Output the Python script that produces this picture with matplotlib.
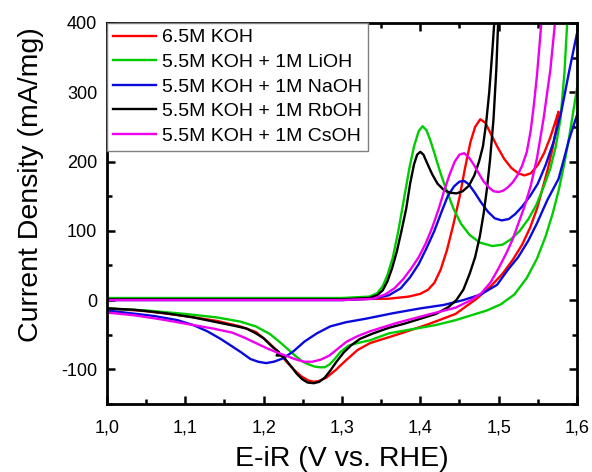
import matplotlib
matplotlib.use('Agg')
import matplotlib.pyplot as plt
from matplotlib.ticker import MultipleLocator

plt.rcParams['font.family'] = ['Liberation Sans', 'DejaVu Sans']

labels = ['6.5M KOH', '5.5M KOH + 1M LiOH', '5.5M KOH + 1M NaOH',
          '5.5M KOH + 1M RbOH', '5.5M KOH + 1M CsOH']
colors = ['#FF0000', '#00CC00', '#0A0ADC', '#000000', '#EE00EE']

x_ticks = [1.0, 1.1, 1.2, 1.3, 1.4, 1.5, 1.6]
x_tick_labels = ['1,0', '1,1', '1,2', '1,3', '1,4', '1,5', '1,6']
y_ticks = [-100, 0, 100, 200, 300, 400]
y_tick_labels = ['-100', '0', '100', '200', '300', '400']

# 6.5M KOH
koh_fwd_x = [1.00, 1.15, 1.30, 1.36, 1.385, 1.40, 1.41, 1.418, 1.426, 1.434, 1.442, 1.450, 1.457,
             1.464, 1.470, 1.4765, 1.483, 1.490, 1.498, 1.507, 1.516, 1.525, 1.533, 1.541, 1.550,
             1.558, 1.566, 1.572, 1.5765]
koh_fwd_y = [1, 1, 1, 2, 5, 9, 15, 25, 44, 72, 108, 148, 190,
             228, 250, 261, 256, 240, 222, 204, 191, 183, 180, 183, 195,
             212, 235, 256, 272]
koh_rev_x = [1.5765, 1.574, 1.569, 1.563, 1.557, 1.549, 1.540, 1.530, 1.518, 1.505, 1.490, 1.472,
             1.445, 1.410, 1.370, 1.336, 1.320, 1.305, 1.292, 1.280, 1.270, 1.264, 1.257, 1.248,
             1.240, 1.230, 1.218, 1.205, 1.190, 1.170, 1.140, 1.100, 1.050, 1.000]
koh_rev_y = [272, 250, 220, 190, 165, 132, 104, 80, 58, 38, 20, 2,
             -20, -35, -50, -62, -72, -87, -101, -112, -117, -118, -116, -110,
             -102, -90, -74, -60, -46, -38, -30, -23, -16, -12]

# 5.5M KOH + 1M LiOH
li_fwd_x = [1.00, 1.15, 1.30, 1.335, 1.345, 1.352, 1.358, 1.365, 1.372, 1.379, 1.386, 1.392,
            1.398, 1.403, 1.408, 1.413, 1.418, 1.425, 1.433, 1.442, 1.452, 1.463, 1.476, 1.492,
            1.505, 1.516, 1.527, 1.538, 1.548, 1.558, 1.566, 1.573, 1.579, 1.584, 1.588, 1.592]
li_fwd_y = [3, 3, 3, 5, 10, 20, 36, 62, 100, 145, 190, 222,
            244, 251, 245, 230, 212, 186, 160, 133, 110, 94, 83, 78,
            80, 88, 100, 117, 137, 165, 190, 222, 262, 328, 410, 480]
li_rev_x = [1.615, 1.600, 1.595, 1.590, 1.584, 1.577, 1.569, 1.560, 1.549, 1.536, 1.520, 1.503,
            1.485, 1.465, 1.445, 1.420, 1.390, 1.360, 1.336, 1.320, 1.308, 1.298, 1.290, 1.284,
            1.278, 1.272, 1.265, 1.258, 1.250, 1.242, 1.232, 1.222, 1.208, 1.190, 1.170, 1.140,
            1.100, 1.050, 1.000]
li_rev_y = [420, 305, 270, 235, 198, 160, 125, 92, 60, 32, 8, -6,
            -15, -22, -29, -36, -42, -48, -58, -62, -66, -75, -86, -93,
            -97, -97, -96, -93, -89, -82, -72, -62, -49, -38, -31, -25,
            -20, -15, -12]

# 5.5M KOH + 1M NaOH
na_fwd_x = [1.00, 1.15, 1.30, 1.34, 1.36, 1.375, 1.387, 1.398, 1.408, 1.418, 1.427, 1.435,
            1.443, 1.450, 1.456, 1.462, 1.469, 1.477, 1.486, 1.495, 1.504, 1.513, 1.521, 1.530,
            1.540, 1.550, 1.560, 1.570, 1.580, 1.590, 1.600]
na_fwd_y = [0, 0, 0, 2, 7, 17, 33, 52, 75, 100, 127, 150,
            164, 171, 172, 167, 156, 142, 128, 118, 115, 117, 124, 135,
            150, 168, 195, 228, 272, 330, 385]
na_rev_x = [1.620, 1.600, 1.590, 1.583, 1.5765, 1.562, 1.549, 1.538, 1.525, 1.512, 1.498, 1.477,
            1.455, 1.430, 1.400, 1.365, 1.330, 1.305, 1.285, 1.268, 1.252, 1.238, 1.225, 1.213,
            1.203, 1.193, 1.183, 1.172, 1.160, 1.145, 1.128, 1.110, 1.090, 1.060, 1.030, 1.000]
na_rev_y = [340, 267, 232, 202, 175, 144, 111, 86, 62, 44, 22, 8,
            0, -7, -12, -19, -27, -32, -38, -48, -60, -74, -84, -89,
            -91, -89, -85, -76, -67, -56, -45, -36, -29, -23, -19, -15]

# 5.5M KOH + 1M RbOH
rb_fwd_x = [1.00, 1.15, 1.30, 1.335, 1.345, 1.352, 1.358, 1.364, 1.370, 1.376, 1.382, 1.387,
            1.392, 1.396, 1.400, 1.404, 1.409, 1.415, 1.422, 1.430, 1.438, 1.446, 1.454, 1.462,
            1.469, 1.475, 1.480, 1.484, 1.488, 1.492, 1.495, 1.498]
rb_fwd_y = [1, 1, 1, 3, 7, 14, 27, 46, 70, 100, 132, 168,
            196, 210, 214, 210, 197, 182, 168, 159, 155, 154, 157, 165,
            180, 200, 222, 255, 300, 360, 410, 470]
rb_rev_x = [1.506, 1.502, 1.4995, 1.497, 1.4935, 1.489, 1.485, 1.481, 1.476, 1.470, 1.463, 1.455,
            1.446, 1.436, 1.420, 1.400, 1.380, 1.360, 1.340, 1.323, 1.312, 1.302, 1.293, 1.285,
            1.278, 1.271, 1.264, 1.256, 1.249, 1.242, 1.236, 1.2295, 1.2255, 1.2215, 1.2165,
            1.2195, 1.2127, 1.206, 1.200, 1.190, 1.178, 1.162, 1.136, 1.110, 1.075, 1.035, 1.000]
rb_rev_y = [480, 430, 404, 332, 262, 202, 160, 126, 92, 62, 38, 15,
            0, -10, -20, -27, -34, -40, -48, -56, -65, -76, -89, -102,
            -112, -118, -120, -119, -114, -106, -97, -88, -82, -80, -80,
            -75, -69, -62, -55, -48, -41, -37, -31, -25, -19, -14, -12]

# 5.5M KOH + 1M CsOH
cs_fwd_x = [1.00, 1.15, 1.30, 1.34, 1.355, 1.367, 1.378, 1.388, 1.398, 1.407, 1.415, 1.423,
            1.430, 1.437, 1.444, 1.450, 1.456, 1.462, 1.468, 1.474, 1.481, 1.488, 1.494, 1.500,
            1.506, 1.512, 1.518, 1.524, 1.530, 1.536, 1.541, 1.545, 1.549, 1.552, 1.5545, 1.558]
cs_fwd_y = [0, 0, 0, 2, 8, 17, 30, 45, 62, 82, 104, 130,
            156, 180, 200, 210, 212, 206, 196, 184, 171, 162, 157, 156,
            158, 163, 170, 180, 194, 214, 245, 282, 325, 365, 400, 450]
cs_rev_x = [1.580, 1.5723, 1.566, 1.5574, 1.549, 1.541, 1.533, 1.525, 1.518, 1.510, 1.500, 1.490,
            1.478, 1.465, 1.445, 1.410, 1.370, 1.336, 1.320, 1.306, 1.295, 1.284, 1.273, 1.262,
            1.252, 1.242, 1.230, 1.218, 1.205, 1.190, 1.175, 1.160, 1.135, 1.105, 1.070, 1.035,
            1.000]
cs_rev_y = [480, 404, 332, 262, 205, 165, 135, 110, 88, 68, 46, 26,
            10, 0, -11, -21, -33, -45, -52, -60, -70, -80, -86, -89,
            -89, -86, -81, -76, -70, -62, -54, -47, -41, -35, -28, -22,
            -18]

curves = [
    (koh_fwd_x, koh_fwd_y, koh_rev_x, koh_rev_y),
    (li_fwd_x, li_fwd_y, li_rev_x, li_rev_y),
    (na_fwd_x, na_fwd_y, na_rev_x, na_rev_y),
    (rb_fwd_x, rb_fwd_y, rb_rev_x, rb_rev_y),
    (cs_fwd_x, cs_fwd_y, cs_rev_x, cs_rev_y),
]

fig = plt.figure(figsize=(5.92, 4.72), dpi=100)
ax = fig.add_axes([0.1807, 0.1441, 0.7939, 0.8072])

for (fx, fy, rx, ry), lab, col in zip(curves, labels, colors):
    ax.plot(fx + rx, fy + ry, color=col, lw=1.7, label=lab, solid_joinstyle='round')

ax.set_xlim(1.0, 1.6)
ax.set_ylim(-150, 400)
ax.set_xticks(x_ticks)
ax.set_xticklabels(x_tick_labels)
ax.set_yticks(y_ticks)
ax.set_yticklabels(y_tick_labels)
ax.xaxis.set_minor_locator(MultipleLocator(0.05))
ax.yaxis.set_minor_locator(MultipleLocator(50))
ax.tick_params(which='both', direction='in', top=True, right=True, width=1.8, labelsize=13)
ax.tick_params(which='major', length=6)
ax.tick_params(which='minor', length=3.5)
ax.tick_params(axis='x', which='major', pad=11)
ax.tick_params(axis='y', which='major', pad=7)
for sp in ax.spines.values():
    sp.set_linewidth(2)

ax.set_xlabel('E-iR (V vs. RHE)', fontsize=20.5, labelpad=7)
ax.set_ylabel('Current Density (mA/mg)', fontsize=20.5, labelpad=12)
ax.yaxis.label.set_y(0.577)

leg = ax.legend(loc='upper left', fontsize=14, borderaxespad=0, fancybox=False,
                framealpha=1, edgecolor='#808080', handlelength=2.2, handletextpad=0.35,
                labelspacing=0.36, borderpad=0.3)
leg.get_frame().set_linewidth(1)

plt.savefig('out.png', dpi=100)
